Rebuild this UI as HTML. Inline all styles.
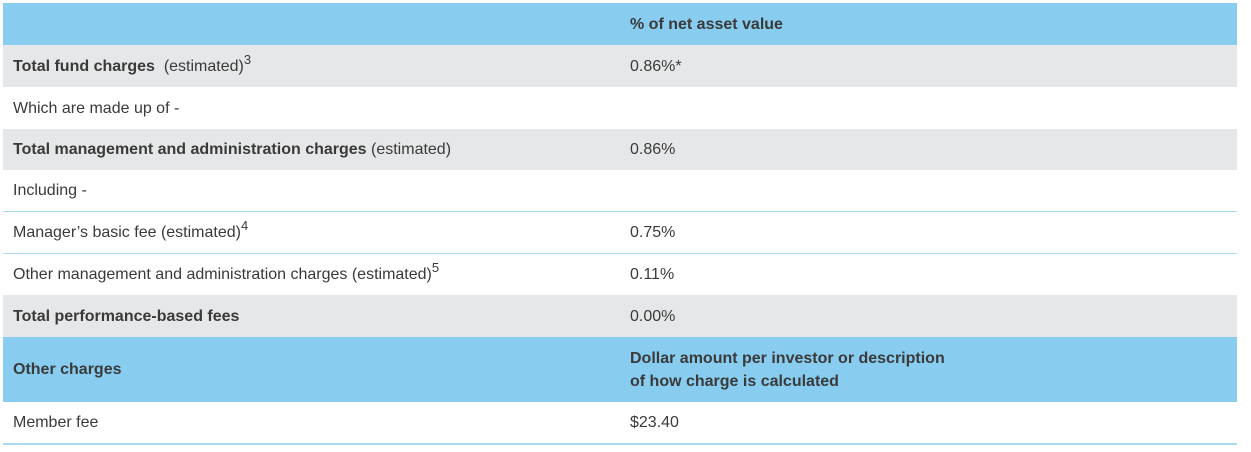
<!DOCTYPE html>
<html><head><style>
body{margin:0;width:1251px;height:452px;background:#fff;font-family:"Liberation Sans",sans-serif;font-size:16px;color:#3a3a3a;position:relative;overflow:hidden}
.r{position:absolute;left:3px;width:1234px;box-sizing:border-box}
.c1,.c2{position:absolute;top:0;bottom:0;display:flex;align-items:center;line-height:23px}
.c1{left:10px}.c2{left:627px}
.b{font-weight:bold}
.blue{background:#88cdf0}
.gray{background:#e6e7e8}
sup{font-size:13px;vertical-align:7px;line-height:0}
.ln{border-bottom:1px solid #a8d9f0}
</style></head><body>
<div class="r blue" style="top:3px;height:42px"><div class="c2 b">% of net asset value</div></div>
<div class="r gray" style="top:45px;height:42px"><div class="c1"><span><span class="b">Total fund charges</span>&nbsp; (estimated)<sup>3</sup></span></div><div class="c2">0.86%*</div></div>
<div class="r" style="top:87px;height:42px"><div class="c1">Which are made up of -</div></div>
<div class="r gray" style="top:129px;height:41px"><div class="c1"><span><span class="b">Total management and administration charges</span> (estimated)</span></div><div class="c2">0.86%</div></div>
<div class="r ln" style="top:170px;height:42px"><div class="c1">Including -</div></div>
<div class="r ln" style="top:212px;height:42px"><div class="c1"><span>Manager’s basic fee (estimated)<sup>4</sup></span></div><div class="c2">0.75%</div></div>
<div class="r" style="top:254px;height:41px"><div class="c1"><span>Other management and administration charges (estimated)<sup>5</sup></span></div><div class="c2">0.11%</div></div>
<div class="r gray" style="top:295px;height:42px"><div class="c1 b">Total performance-based fees</div><div class="c2">0.00%</div></div>
<div class="r blue" style="top:337px;height:65px"><div class="c1 b">Other charges</div><div class="c2 b">Dollar amount per investor or description<br>of how charge is calculated</div></div>
<div class="r" style="top:402px;height:43px;border-bottom:2px solid #a8d9f0"><div class="c1">Member fee</div><div class="c2">$23.40</div></div>
</body></html>
